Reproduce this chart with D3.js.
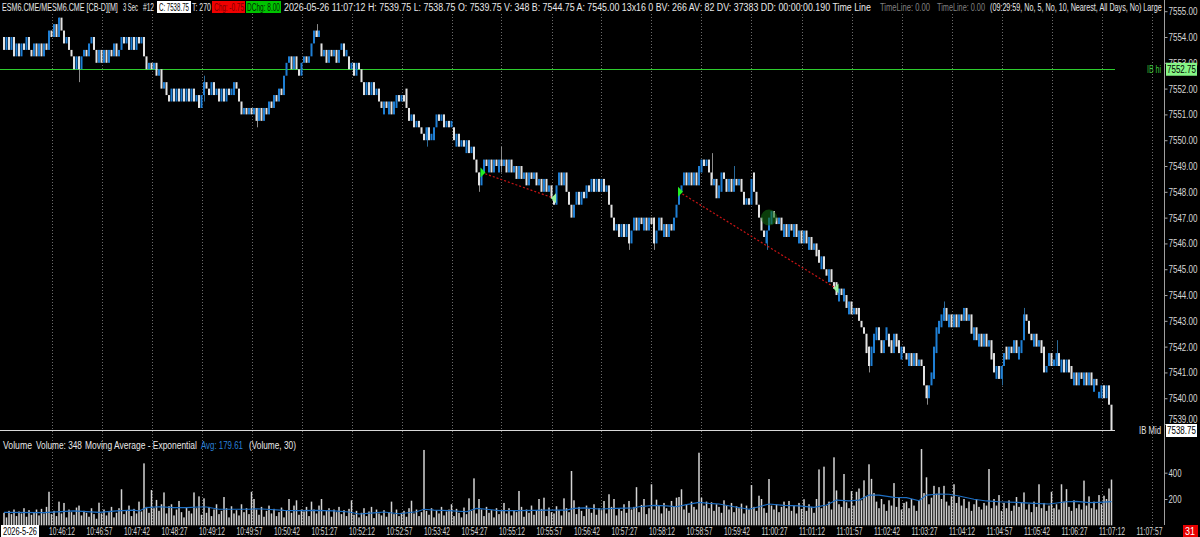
<!DOCTYPE html>
<html>
<head>
<meta charset="utf-8">
<script src="https://cdn.jsdelivr.net/npm/d3@7"></script>
<style>
  body { margin: 0; background: #000; overflow: hidden; }
  svg text { font-family: "Liberation Sans", Arial, sans-serif; font-size: 11px; }
</style>
</head>
<body>
<div id="chart"></div>
<script>
// prices are kept as ticks above the base (1 tick = 0.25)
var tickBase = 7538, tickSize = 0.25;

var closeTicks = [
  62,64,62,64,61,63,61,63,62,64,62,61,63,61,63,61,63,62,65,64,
  66,64,67,65,63,64,62,61,59,61,59,61,62,61,63,64,62,60,62,60,
  62,60,62,61,63,61,62,64,63,64,62,64,62,64,63,64,61,59,60,59,
  60,58,59,56,57,55,54,56,54,56,54,56,54,56,54,56,54,55,53,55,
  57,56,55,57,55,56,54,56,54,56,55,56,57,56,54,52,53,52,53,52,
  53,51,53,51,53,52,54,53,55,54,56,55,58,60,61,59,61,59,58,60,
  61,60,61,63,65,64,65,61,62,60,62,61,62,60,62,63,61,62,59,60,
  58,60,59,57,55,57,55,57,55,56,54,53,54,53,54,52,54,55,54,55,
  54,53,51,52,50,51,50,49,48,50,48,49,50,52,51,52,50,51,50,51,
  48,49,47,48,47,48,46,47,45,43,41,43,45,44,45,43,45,44,45,44,
  45,43,45,43,44,42,44,42,43,41,43,42,43,41,42,40,42,40,41,39,
  38,41,43,41,43,40,38,36,38,40,38,40,39,41,40,42,40,42,40,42,
  40,41,38,36,34,35,33,35,33,35,32,34,36,34,36,35,36,34,36,35,
  32,34,36,34,35,33,35,34,36,38,40,41,43,41,43,41,43,41,44,45,
  44,45,43,41,42,39,41,43,42,40,42,40,42,41,42,40,38,39,38,42,
  40,38,36,34,33,34,36,37,36,35,36,34,35,33,35,34,35,33,34,32,
  34,32,33,31,32,30,29,30,28,27,28,26,25,24,25,24,25,22,23,21,
  22,21,20,19,18,15,13,16,18,19,17,15,17,19,16,15,18,16,15,16,
  15,14,15,13,15,13,14,13,10,8,10,12,16,19,20,21,22,20,21,19,
  21,19,21,20,22,20,21,18,19,17,18,16,18,16,17,14,12,13,11,13,
  15,14,16,15,17,15,16,17,21,20,18,17,18,16,17,15,12,13,15,13,
  14,15,13,14,12,14,12,11,12,10,12,11,12,10,12,10,11,10,9,10,
  8,10,7,3
];

var openTicks = [
  64,62,64,62,64,61,63,61,63,62,64,62,61,63,61,63,61,63,62,65,
  64,66,64,67,65,63,64,62,61,59,61,59,61,62,61,63,64,62,60,62,
  60,62,60,62,61,63,61,62,64,63,64,62,64,62,64,63,64,61,59,60,
  59,60,58,59,56,57,55,54,56,54,56,54,56,54,56,54,56,54,55,53,
  55,57,56,55,57,55,56,54,56,54,56,55,55,57,56,54,52,53,52,53,
  52,53,51,53,51,53,52,54,53,55,54,56,55,58,60,61,59,61,59,58,
  60,61,60,61,63,65,64,63,61,62,60,62,61,62,60,62,63,61,61,59,
  60,58,60,59,57,55,57,55,57,55,56,54,52,54,52,54,52,53,55,54,
  55,56,53,51,52,50,51,50,49,48,50,48,48,50,52,51,52,50,51,50,
  50,47,49,47,48,46,48,46,47,45,43,41,43,45,43,45,43,45,43,45,
  44,45,43,45,43,44,42,44,42,43,41,43,42,43,41,42,40,42,40,41,
  39,38,41,43,41,43,40,38,36,38,40,38,40,39,41,40,42,40,42,40,
  42,40,41,38,36,34,35,33,35,33,35,32,34,36,34,36,34,36,34,36,
  36,32,34,36,33,35,33,35,34,36,38,40,41,43,41,43,41,43,41,43,
  45,44,45,43,41,42,39,40,43,42,40,42,40,42,41,42,40,38,39,38,
  43,40,38,36,34,32,34,35,37,36,35,36,33,35,33,35,33,35,32,34,
  32,34,31,33,31,32,31,28,30,28,26,28,26,26,23,25,23,24,21,23,
  21,22,22,20,19,18,16,13,15,17,19,17,15,17,18,17,15,18,17,14,
  16,15,13,15,13,15,13,14,13,10,8,10,11,15,18,19,20,22,19,21,
  19,21,19,21,20,22,20,21,17,19,16,18,16,18,16,17,15,11,13,11,
  13,16,14,16,15,17,14,15,17,21,20,18,16,18,16,17,16,12,13,15,
  13,13,15,12,14,12,14,13,10,12,10,12,10,12,10,12,9,11,8,8,
  10,8,10,7
];

// [bar, low tick, high tick] where a wick shows past the body
var wicks = [
  [22,64,67],[30,57,61],[80,54,58],[101,50,53],[125,64,66],[169,47,50],
  [190,40,43],[199,43,47],[250,31,35],[260,31,36],[283,42,46],[292,41,44],
  [305,31,34],[346,12,16],[369,7,10],[376,20,23],[399,10,13],[408,17,22],[421,13,17]
];

var volumes = [
  95,60,110,85,120,70,105,90,130,65,115,80,100,120,75,125,90,140,255,85,
  110,70,180,90,170,60,120,100,80,135,150,75,110,95,65,130,85,50,172,90,
  120,75,100,140,60,95,130,274,85,110,150,70,125,90,180,105,471,140,95,268,
  130,193,110,160,250,90,145,160,75,120,185,100,60,135,110,90,250,130,220,80,
  205,95,140,70,120,160,85,110,215,130,60,145,90,115,75,160,100,130,85,255,
  200,120,80,140,65,110,150,90,125,70,100,135,60,115,200,95,150,190,80,120,
  105,140,70,180,120,90,150,200,75,110,130,65,120,100,140,85,115,70,125,190,
  80,110,60,95,130,70,105,140,55,120,90,75,115,65,100,180,85,120,70,95,
  110,65,130,187,90,120,70,100,573,110,80,130,60,115,90,140,75,105,120,160,
  70,125,95,60,135,85,205,110,357,90,200,120,70,140,95,115,60,130,85,110,
  170,90,130,75,115,100,261,140,65,120,95,150,80,110,200,125,210,70,135,100,
  90,145,115,75,205,130,100,413,190,85,140,110,70,150,125,95,160,80,130,115,
  185,90,236,140,200,75,130,110,160,95,185,120,140,290,100,155,200,85,130,312,
  120,195,150,90,170,130,110,185,140,210,215,274,120,160,95,180,140,120,552,210,
  150,180,130,175,110,160,140,95,190,150,120,170,100,145,130,165,90,150,120,306,
  140,110,225,200,130,95,352,150,120,160,100,140,180,130,185,110,150,90,170,125,
  198,110,160,140,95,200,425,130,446,150,180,120,517,265,160,140,390,175,130,260,
  150,255,280,190,342,220,464,353,245,180,130,200,160,110,190,150,321,140,210,120,
  170,180,130,200,150,110,190,580,245,365,160,210,300,240,290,200,300,180,150,220,
  312,170,215,150,200,130,180,110,160,200,140,120,170,150,428,130,200,150,230,110,
  170,130,190,110,150,215,140,170,250,120,160,100,180,140,312,130,170,110,150,255,
  130,160,120,312,180,275,140,110,190,130,160,120,340,150,220,130,180,120,230,160,
  225,200,280,348
];

// exponential average (Volume, 30): [bar, value]
var emaPoints = [
  [0,99],[16,96],[28,109],[38,99],[45,109],[52,116],[54,109],[57,134],[62,141],[68,134],
  [73,134],[78,139],[81,139],[86,122],[98,122],[101,126],[105,122],[112,114],[118,111],[125,114],
  [132,109],[138,101],[142,86],[148,94],[152,101],[158,88],[165,103],[168,122],[172,116],[178,111],
  [185,103],[189,129],[193,122],[198,111],[205,111],[212,114],[218,116],[225,116],[228,129],[232,132],
  [238,124],[245,129],[252,132],[254,141],[260,152],[265,147],[269,141],[273,157],[278,175],[282,167],
  [286,162],[292,141],[298,122],[302,141],[306,162],[312,152],[318,147],[324,137],[329,154],[333,192],
  [338,185],[342,192],[346,230],[350,230],[356,213],[361,210],[366,187],[369,230],[374,238],[378,236],
  [382,223],[388,198],[393,185],[398,179],[405,175],[412,167],[418,162],[425,179],[429,182],[434,172],
  [438,175],[443,180]
];

// [entry bar, entry tick, exit bar, exit tick]
var trades = [[191,43,220,39],[270,40,333,25]];
var circleMark = [306, 36];

var priceTicks = d3.range(7539, 7556);
var volTicks = [200, 400];
var ibHi = 7552.75, ibMid = 7538.75, lastPrice = 7538.75;

var width = 1200, height = 537;

var svg = d3.select('#chart').append('svg')
  .attr('width', width)
  .attr('height', height);

svg.append('rect').attr('width', width).attr('height', height).attr('fill', '#000');

function price(t) { return tickBase + t * tickSize; }

// squeeze a text horizontally to the width it has in the screenshot
function fit(sel, w) {
  sel.each(function() {
    var n = this.getComputedTextLength();
    if (!n) return;
    var x0 = +this.getAttribute('x') || 0;
    var sx = Math.min(1.2, w / n);
    this.setAttribute('transform', 'translate(' + x0 + ',0) scale(' + sx + ',1) translate(' + (-x0) + ',0)');
  });
}

var startTime = new Date(2026, 4, 26, 10, 45, 3);
function barTime(i) { return new Date(startTime.getTime() + i * 3000); }

var xScale = d3.scaleTime().domain([startTime, barTime(443)]).range([4, 1111.5]);
var yScale = d3.scaleLinear().domain([7538.75, 7554]).range([430.5, 37]);
var vScale = d3.scaleLinear().domain([0, 400]).range([525.3, 472.7]);

// minute grid
var minutes = d3.timeMinute.range(new Date(2026, 4, 26, 10, 46), new Date(2026, 4, 26, 11, 9));
svg.append('g').selectAll('line')
  .data(minutes)
  .enter().append('line')
  .attr('x1', function(d) { return Math.round(xScale(d)) + 0.5; })
  .attr('x2', function(d) { return Math.round(xScale(d)) + 0.5; })
  .attr('y1', 14).attr('y2', 525)
  .attr('stroke', '#6a6a6a')
  .attr('stroke-dasharray', '1,2');

// IB lines
svg.append('rect').attr('x', 0).attr('width', 1115)
  .attr('y', Math.round(yScale(ibHi))).attr('height', 1)
  .attr('fill', '#2ecc2e');
svg.append('rect').attr('x', 0).attr('width', 1115)
  .attr('y', Math.round(yScale(ibMid)) - 1).attr('height', 1)
  .attr('fill', '#d8d8d8');

// wicks
svg.append('g').selectAll('line')
  .data(wicks)
  .enter().append('line')
  .attr('x1', function(d) { return Math.round(xScale(barTime(d[0]))) + 0.5; })
  .attr('x2', function(d) { return Math.round(xScale(barTime(d[0]))) + 0.5; })
  .attr('y1', function(d) { return yScale(price(d[2])); })
  .attr('y2', function(d) { return yScale(price(d[1])); })
  .attr('stroke', function(d) {
    return closeTicks[d[0]] > openTicks[d[0]] ? '#2a6a9a' : '#8a8a8a';
  });

// candle bodies
svg.append('g').selectAll('rect')
  .data(closeTicks)
  .enter().append('rect')
  .attr('x', function(d, i) { return xScale(barTime(i)) - 1; })
  .attr('width', 2)
  .attr('y', function(d, i) { return yScale(price(Math.max(d, openTicks[i]))); })
  .attr('height', function(d, i) {
    return Math.max(1, yScale(price(Math.min(d, openTicks[i]))) - yScale(price(Math.max(d, openTicks[i]))));
  })
  .attr('fill', function(d, i) { return d > openTicks[i] ? '#1f7fd4' : '#e2e2e2'; });

// trade markers
var tradeG = svg.append('g');
tradeG.selectAll('line')
  .data(trades)
  .enter().append('line')
  .attr('x1', function(d) { return xScale(barTime(d[0])); })
  .attr('y1', function(d) { return yScale(price(d[1])); })
  .attr('x2', function(d) { return xScale(barTime(d[2])); })
  .attr('y2', function(d) { return yScale(price(d[3])); })
  .attr('stroke', '#c81414')
  .attr('stroke-width', 1.2)
  .attr('stroke-dasharray', '2,2');

tradeG.selectAll('.entry')
  .data(trades)
  .enter().append('path')
  .attr('class', 'entry')
  .attr('d', function(d) {
    var x = xScale(barTime(d[0])), y = yScale(price(d[1]));
    return 'M' + (x - 1) + ',' + (y - 5) + 'L' + (x + 4) + ',' + y + 'L' + (x - 1) + ',' + (y + 5) + 'Z';
  })
  .attr('fill', '#22ee22');

tradeG.selectAll('.exit')
  .data(trades)
  .enter().append('path')
  .attr('class', 'exit')
  .attr('d', function(d) {
    var x = xScale(barTime(d[2])), y = yScale(price(d[3]));
    return 'M' + (x + 2) + ',' + (y - 5) + 'L' + (x - 3) + ',' + y + 'L' + (x + 2) + ',' + (y + 5) + 'Z';
  })
  .attr('fill', '#9af29a');

svg.append('circle')
  .attr('cx', xScale(barTime(circleMark[0])))
  .attr('cy', yScale(price(circleMark[1])))
  .attr('r', 8)
  .attr('fill', '#126812')
  .attr('opacity', 0.6);

// volume bars
svg.append('g').selectAll('rect')
  .data(volumes)
  .enter().append('rect')
  .attr('x', function(d, i) { return xScale(barTime(i)) - 0.75; })
  .attr('width', 1.5)
  .attr('y', function(d) { return vScale(d); })
  .attr('height', function(d) { return vScale(0) - vScale(d); })
  .attr('fill', '#d4d4d4');

var emaLine = d3.line()
  .x(function(d) { return xScale(barTime(d[0])); })
  .y(function(d) { return vScale(d[1]); });

svg.append('path')
  .datum(emaPoints)
  .attr('d', emaLine)
  .attr('fill', 'none')
  .attr('stroke', '#1e6fc4')
  .attr('stroke-width', 1.2);

// right axis line
svg.append('line').attr('x1', 1164.5).attr('x2', 1164.5).attr('y1', 0).attr('y2', 525)
  .attr('stroke', '#a0a0a0');

var yAxis = svg.append('g')
  .attr('transform', 'translate(1164.5,0)')
  .call(d3.axisRight(yScale).tickValues(priceTicks).tickFormat(d3.format('.2f')).tickSize(3).tickPadding(1));
yAxis.select('.domain').remove();
yAxis.selectAll('line').attr('stroke', '#a0a0a0');
yAxis.selectAll('text')
  .attr('fill', '#d6d6d6')
  .attr('font-size', 11)
  .attr('font-family', '"Liberation Sans", Arial, sans-serif')
  .call(fit, 29);
yAxis.selectAll('.tick').filter(function(d) { return d === 7539; })
  .select('text').attr('y', -5);

var vAxis = svg.append('g')
  .attr('transform', 'translate(1164.5,0)')
  .call(d3.axisRight(vScale).tickValues(volTicks).tickFormat(d3.format('d')).tickSize(3).tickPadding(1));
vAxis.select('.domain').remove();
vAxis.selectAll('line').attr('stroke', '#a0a0a0');
vAxis.selectAll('text')
  .attr('fill', '#d6d6d6')
  .attr('font-size', 11)
  .attr('font-family', '"Liberation Sans", Arial, sans-serif')
  .call(fit, 13);

// value boxes on the price axis
svg.append('rect').attr('x', 1166).attr('y', yScale(ibHi) - 6.5).attr('width', 31).attr('height', 13).attr('fill', '#86f586');
svg.append('text').attr('x', 1167).attr('y', yScale(ibHi) + 4).attr('fill', '#000').text(ibHi.toFixed(2)).call(fit, 29);
svg.append('rect').attr('x', 1166).attr('y', yScale(lastPrice) - 6.5).attr('width', 31).attr('height', 13).attr('fill', '#fff');
svg.append('text').attr('x', 1167).attr('y', yScale(lastPrice) + 4).attr('fill', '#000').text(lastPrice.toFixed(2)).call(fit, 29);

svg.append('text').attr('x', 1147).attr('y', yScale(ibHi) + 4)
  .attr('fill', '#3cc83c').text('IB hi').call(fit, 14);
svg.append('text').attr('x', 1139).attr('y', yScale(ibMid) + 4)
  .attr('fill', '#e0e0e0').text('IB Mid').call(fit, 22);

// time axis
var timeLabels = d3.range(30).map(function(k) { return new Date(2026, 4, 26, 10, 46, 12 + 45 * k); });
var xAxis = svg.append('g')
  .attr('transform', 'translate(0,524)')
  .call(d3.axisBottom(xScale).tickValues(timeLabels).tickFormat(d3.timeFormat('%H:%M:%S')).tickSize(0).tickPadding(3));
xAxis.select('.domain').remove();
xAxis.selectAll('text')
  .attr('fill', '#d6d6d6')
  .attr('font-size', 11)
  .attr('font-family', '"Liberation Sans", Arial, sans-serif')
  .call(fit, 26);

svg.append('rect').attr('x', 1).attr('y', 525).attr('width', 38).attr('height', 12).attr('fill', '#fff');
svg.append('text').attr('x', 3).attr('y', 535).attr('fill', '#000').text('2026-5-26').call(fit, 34);

svg.append('rect').attr('x', 1183).attr('y', 525).attr('width', 15).attr('height', 12).attr('fill', '#e80000');
svg.append('text').attr('x', 1185).attr('y', 535).attr('fill', '#fff').text('31').call(fit, 10);

// header line
var header = [
  { t: 'ESM6.CME/MESM6.CME [CB-D][M]', x: 2, w: 116, c: '#e8e8e8' },
  { t: '3 Sec', x: 123, w: 15, c: '#e8e8e8' },
  { t: '#12', x: 143, w: 11, c: '#e8e8e8' },
  { t: 'C: 7538.75', x: 159, w: 30, c: '#000', bg: '#fff', bx: 157, bw: 34 },
  { t: 'T: 270', x: 192, w: 19, c: '#e8e8e8' },
  { t: 'Chg: -0.75', x: 214, w: 30, c: '#7a0000', bg: '#f00000', bx: 212, bw: 33 },
  { t: 'DChg: 8.00', x: 247, w: 33, c: '#002800', bg: '#00c400', bx: 246, bw: 35 },
  { t: '2026-05-26 11:07:12 H: 7539.75 L: 7538.75 O: 7539.75 V: 348 B: 7544.75 A: 7545.00 13x16 0 BV: 266 AV: 82 DV: 37383 DD: 00:00:00.190 Time Line', x: 284, w: 588, c: '#e8e8e8' },
  { t: 'TimeLine: 0.00', x: 880, w: 50, c: '#808080' },
  { t: 'TimeLine: 0.00', x: 937, w: 48, c: '#808080' },
  { t: '(09:29:59, No, 5, No, 10, Nearest, All Days, No)  Large', x: 990, w: 172, c: '#e8e8e8' }
];

header.forEach(function(h) {
  if (h.bg) {
    svg.append('rect').attr('x', h.bx).attr('y', 1).attr('width', h.bw).attr('height', 12).attr('fill', h.bg);
  }
  svg.append('text').attr('x', h.x).attr('y', 11).attr('fill', h.c).text(h.t).call(fit, h.w);
});

// volume pane title
var volTitle = [
  { t: 'Volume', x: 3, w: 29, c: '#e8e8e8' },
  { t: 'Volume: 348', x: 36, w: 46, c: '#e8e8e8' },
  { t: 'Moving Average - Exponential', x: 85, w: 112, c: '#e8e8e8' },
  { t: 'Avg: 179.61', x: 201, w: 42, c: '#2a80d8' },
  { t: '(Volume, 30)', x: 249, w: 47, c: '#e8e8e8' }
];

volTitle.forEach(function(h) {
  svg.append('text').attr('x', h.x).attr('y', 449).attr('fill', h.c).text(h.t).call(fit, h.w);
});
</script>
</body>
</html>
